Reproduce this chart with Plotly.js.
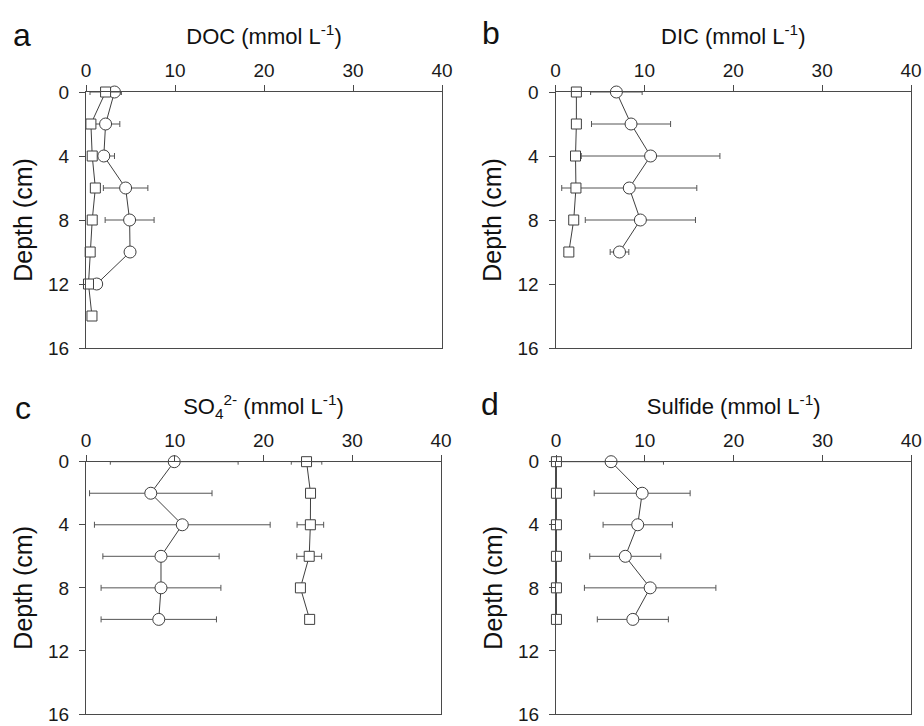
<!DOCTYPE html>
<html>
<head>
<meta charset="utf-8">
<script src="https://cdn.plot.ly/plotly-3.0.1.min.js"></script>
<style>
html,body{margin:0;padding:0;background:#fff;}
#chart{width:924px;height:726px;}
</style>
</head>
<body>
<div id="chart"></div>
<script>
// ---- Data ----
// Panel a: DOC
var docCircDepth = [0, 2, 4, 6, 8, 10, 12];
var docCirc      = [3.2, 2.2, 2.0, 4.45, 4.9, 4.95, 1.2];
var docCircErr   = [0.75, 1.6, 1.2, 2.5, 2.75, 0, 0];
var docSqDepth   = [0, 2, 4, 6, 8, 10, 12, 14];
var docSq        = [2.2, 0.55, 0.7, 1.05, 0.7, 0.47, 0.28, 0.67];
var docSqErr     = [1.75, 0, 0, 0, 0, 0, 0, 0];

// Panel b: DIC
var dicCircDepth = [0, 2, 4, 6, 8, 10];
var dicCirc      = [6.85, 8.5, 10.7, 8.3, 9.55, 7.2];
var dicCircErr   = [2.9, 4.45, 7.8, 7.6, 6.2, 1.05];
var dicSqDepth   = [0, 2, 4, 6, 8, 10];
var dicSq        = [2.35, 2.35, 2.25, 2.3, 2.05, 1.5];
var dicSqErr     = [0, 0, 0, 0, 0, 0];

// Panel c: SO4 2-
var so4CircDepth = [0, 2, 4, 6, 8, 10];
var so4Circ      = [9.94, 7.3, 10.85, 8.45, 8.45, 8.2];
var so4CircErr   = [7.2, 6.9, 9.9, 6.55, 6.75, 6.5];
var so4SqDepth   = [0, 2, 4, 6, 8, 10];
var so4Sq        = [24.85, 25.3, 25.28, 25.15, 24.16, 25.2];
var so4SqErr     = [1.72, 0.4, 1.5, 1.4, 0, 0.4];

// Panel d: Sulfide
var sulCircDepth = [0, 2, 4, 6, 8, 10];
var sulCirc      = [6.2, 9.7, 9.2, 7.8, 10.6, 8.65];
var sulCircErr   = [5.9, 5.4, 3.9, 4.0, 7.4, 4.0];
var sulSqDepth   = [0, 2, 4, 6, 8, 10];
var sulSq        = [0.05, 0.05, 0.05, 0.05, 0.05, 0.05];
var sulSqErr     = [0, 0, 0, 0, 0, 0];

var xTickVals = [0, 10, 20, 30, 40];
var yTickVals = [0, 4, 8, 12, 16];
var panelTitles = [
  'DOC (mmol L<sup>-1</sup>)',
  'DIC (mmol L<sup>-1</sup>)',
  'SO<sub>4</sub><sup>2-</sup> (mmol L<sup>-1</sup>)',
  'Sulfide (mmol L<sup>-1</sup>)'
];
var panelLetters = ['a', 'b', 'c', 'd'];
var yTitle = 'Depth (cm)';

// ---- Styling ----
var lineCol = '#3f3f3f';
var errCol = '#555555';
var axCol = '#4a4a4a';
var FONT = 'Liberation Sans, Arial, sans-serif';

function circTrace(x, y, e, n) {
  return {
    type: 'scatter', mode: 'lines+markers', x: x, y: y,
    xaxis: 'x' + (n === 1 ? '' : n), yaxis: 'y' + (n === 1 ? '' : n),
    cliponaxis: false,
    line: {color: lineCol, width: 1},
    marker: {symbol: 'circle', size: 12, color: '#ffffff', line: {color: lineCol, width: 1}},
    error_x: {type: 'data', array: e, symmetric: true, color: errCol, thickness: 1, width: 3},
    showlegend: false, hoverinfo: 'x+y'
  };
}
function sqTrace(x, y, e, n) {
  return {
    type: 'scatter', mode: 'lines+markers', x: x, y: y,
    xaxis: 'x' + (n === 1 ? '' : n), yaxis: 'y' + (n === 1 ? '' : n),
    cliponaxis: false,
    line: {color: lineCol, width: 1},
    marker: {symbol: 'square', size: 10, color: '#ffffff', line: {color: lineCol, width: 1}},
    error_x: {type: 'data', array: e, symmetric: true, color: errCol, thickness: 1, width: 3},
    showlegend: false, hoverinfo: 'x+y'
  };
}

var data = [
  circTrace(docCirc, docCircDepth, docCircErr, 1),
  sqTrace(docSq, docSqDepth, docSqErr, 1),
  circTrace(dicCirc, dicCircDepth, dicCircErr, 2),
  sqTrace(dicSq, dicSqDepth, dicSqErr, 2),
  circTrace(so4Circ, so4CircDepth, so4CircErr, 3),
  sqTrace(so4Sq, so4SqDepth, so4SqErr, 3),
  circTrace(sulCirc, sulCircDepth, sulCircErr, 4),
  sqTrace(sulSq, sulSqDepth, sulSqErr, 4)
];

var W = 924, H = 726;
// pixel boxes of the four plot areas [left, right, top, bottom]
var boxes = [
  [86, 442, 92, 348],
  [555.5, 911, 92, 348],
  [86, 441, 461.7, 714],
  [556, 911.3, 461.7, 714]
];

var layout = {
  width: W, height: H,
  margin: {l: 0, r: 0, t: 0, b: 0},
  paper_bgcolor: '#ffffff', plot_bgcolor: '#ffffff',
  font: {family: FONT, color: '#1a1a1a', size: 19},
  showlegend: false,
  annotations: []
};

var letterPos = [[22, 35], [491, 33], [23, 408], [490, 404]];

for (var i = 0; i < 4; i++) {
  var b = boxes[i];
  var suf = i === 0 ? '' : String(i + 1);
  layout['xaxis' + suf] = {
    domain: [b[0] / W, b[1] / W],
    anchor: 'y' + suf,
    side: 'top',
    range: [0, 40],
    tickvals: xTickVals,
    ticktext: xTickVals.map(String),
    ticks: 'outside', ticklen: 6, tickwidth: 1, tickcolor: axCol,
    showline: true, linecolor: axCol, linewidth: 1, mirror: true,
    showgrid: false, zeroline: false,
    ticklabeloverflow: 'allow',
    tickfont: {family: FONT, size: 19, color: '#1a1a1a'},
    title: {text: panelTitles[i], font: {family: FONT, size: 22, color: '#111'}, standoff: 9},
    fixedrange: true
  };
  layout['yaxis' + suf] = {
    domain: [1 - b[3] / H, 1 - b[2] / H],
    anchor: 'x' + suf,
    range: [16, 0],
    tickvals: yTickVals,
    ticktext: yTickVals.map(String),
    ticks: 'outside', ticklen: 6, tickwidth: 1, tickcolor: axCol,
    showline: true, linecolor: axCol, linewidth: 1, mirror: true,
    showgrid: false, zeroline: false,
    ticklabeloverflow: 'allow',
    tickfont: {family: FONT, size: 19, color: '#1a1a1a'},
    ticklabelstandoff: 6,
    title: {text: yTitle, font: {family: FONT, size: 25, color: '#111'}, standoff: 8},
    fixedrange: true
  };
  layout.annotations.push({
    text: panelLetters[i], showarrow: false,
    xref: 'paper', yref: 'paper',
    x: letterPos[i][0] / W, y: 1 - letterPos[i][1] / H,
    xanchor: 'center', yanchor: 'middle',
    font: {family: FONT, size: 32, color: '#111'}
  });
}

Plotly.newPlot('chart', data, layout, {displayModeBar: false, staticPlot: true});
</script>
</body>
</html>
